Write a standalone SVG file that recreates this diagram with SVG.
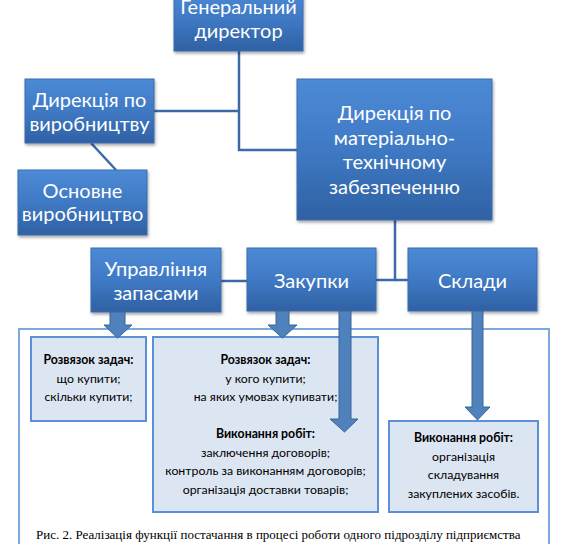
<svg xmlns="http://www.w3.org/2000/svg" width="561" height="544" viewBox="0 0 561 544">
<defs>
<linearGradient id="gb" x1="0" y1="0" x2="0" y2="1">
<stop offset="0" stop-color="#4c8ad6"/>
<stop offset="0.5" stop-color="#3f79c4"/>
<stop offset="1" stop-color="#2f61a3"/>
</linearGradient>
<filter id="sh" x="-10%" y="-10%" width="125%" height="130%">
<feDropShadow dx="1" dy="2" stdDeviation="1.5" flood-color="#000" flood-opacity="0.35"/>
</filter>
<style>
.box{fill:url(#gb);stroke:#3a6db0;stroke-width:1;filter:url(#sh)}
.bt{font-family:Lato,"Noto Sans",sans-serif;font-size:20px;fill:#ffffff;text-anchor:middle}
.conn{fill:none;stroke:#3c6aa6;stroke-width:2.5}
.inner{fill:#dce6f2;stroke:#5b90d8;stroke-width:2}
.outer{fill:none;stroke:#7ea9df;stroke-width:2}
.st{font-family:Lato,"Noto Sans",sans-serif;font-size:12.3px;fill:#000;text-anchor:middle}
.sb{font-weight:bold}
.arr{fill:#4f81bd;stroke:#3b6496;stroke-width:1}
.cap{font-family:"Liberation Serif",serif;font-size:13px;fill:#000}
</style>
</defs>
<rect width="561" height="544" fill="#ffffff"/>
<rect class="outer" x="19" y="329" width="530" height="240"/>
<g id="connectors">
<polyline class="conn" points="239,51 239,150 297,150"/>
<line class="conn" x1="154" y1="111" x2="239" y2="111"/>
<line class="conn" x1="91" y1="143" x2="116" y2="170"/>
<polyline class="conn" points="395,220 395,280 376,280"/>
<line class="conn" x1="395" y1="280" x2="408" y2="280"/>
<line class="conn" x1="221" y1="281" x2="247" y2="281"/>
</g>
<g id="gen-dir"><rect class="box" x="174" y="-13" width="129" height="64"/><text class="bt" x="238.5" y="14">Генеральний</text><text class="bt" x="238.5" y="38">директор</text></g>
<g id="dir-vyr"><rect class="box" x="25" y="79" width="129" height="64"/><text class="bt" x="89.5" y="107">Дирекція по</text><text class="bt" x="89.5" y="131">виробництву</text></g>
<g id="osn-vyr"><rect class="box" x="18" y="170" width="129" height="65"/><text class="bt" x="82.5" y="198">Основне</text><text class="bt" x="82.5" y="221">виробництво</text></g>
<g id="dir-mtz"><rect class="box" x="297" y="79" width="195" height="141"/><text class="bt" x="394.5" y="120">Дирекція по</text><text class="bt" x="394.5" y="144.5">матеріально-</text><text class="bt" x="394.5" y="169">технічному</text><text class="bt" x="394.5" y="193.5">забезпеченню</text></g>
<g id="upr-zap"><rect class="box" x="91" y="248" width="130" height="64"/><text class="bt" x="156" y="276">Управління</text><text class="bt" x="156" y="300">запасами</text></g>
<g id="zakupky"><rect class="box" x="247" y="248" width="129" height="63"/><text class="bt" x="311.5" y="288">Закупки</text></g>
<g id="sklady"><rect class="box" x="408" y="248" width="129" height="63"/><text class="bt" x="472.5" y="288">Склади</text></g>
<g id="task1"><rect class="inner" x="31" y="337" width="115" height="84"/>
<text class="st sb" x="88.5" y="364">Розвязок задач:</text>
<text class="st" x="88.5" y="382.5">що купити;</text>
<text class="st" x="88.5" y="401">скільки купити;</text></g>
<g id="task2"><rect class="inner" x="153" y="337" width="225" height="175"/>
<text class="st sb" x="265.5" y="364">Розвязок задач:</text>
<text class="st" x="265.5" y="382.5">у кого купити;</text>
<text class="st" x="265.5" y="401">на яких умовах купивати;</text>
<text class="st sb" x="265.5" y="438">Виконання робіт:</text>
<text class="st" x="265.5" y="456.5">заключення договорів;</text>
<text class="st" x="265.5" y="475">контроль за виконанням договорів;</text>
<text class="st" x="265.5" y="493.5">організація доставки товарів;</text></g>
<g id="task3"><rect class="inner" x="389" y="421" width="149" height="91"/>
<text class="st sb" x="463.5" y="442">Виконання робіт:</text>
<text class="st" x="463.5" y="460.5">організація</text>
<text class="st" x="463.5" y="479">складування</text>
<text class="st" x="463.5" y="497.5">закуплених засобів.</text></g>
<g id="arrows">
<polygon class="arr" points="110,312 125,312 125,325 132,325 117.5,338 104,325 110,325"/>
<polygon class="arr" points="276,311 289,311 289,325 297,325 282.5,338 268,325 276,325"/>
<polygon class="arr" points="339,311 351,311 351,419 358,419 344.5,432 330,419 339,419"/>
<polygon class="arr" points="472,311 483,311 483,407 490,407 477.5,420 465,407 472,407"/>
</g>
<text class="cap" x="36" y="539">Рис. 2. Реалізація функції постачання в процесі роботи одного підрозділу підприємства</text>
</svg>
